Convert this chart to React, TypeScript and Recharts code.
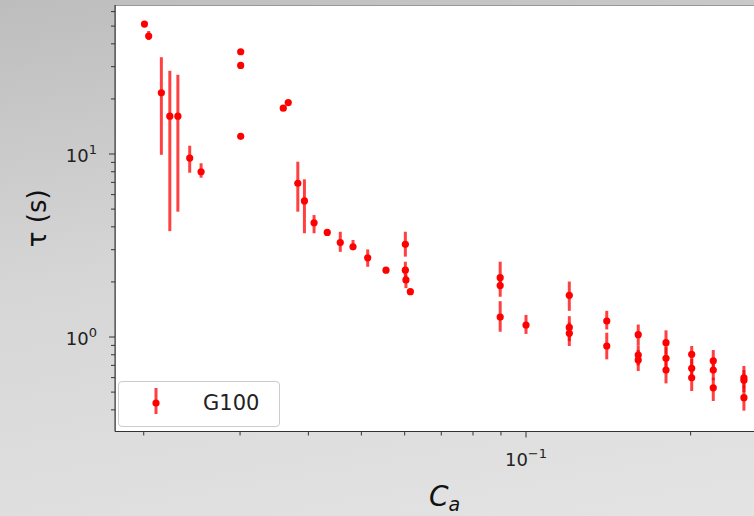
import { ErrorBar, Legend, ReferenceArea, Scatter, ScatterChart, XAxis, YAxis } from 'recharts'

const seriesName = 'G100'

// C_a values
const ca = [
  0.02006, 0.02042, 0.02154, 0.02232, 0.02309, 0.02427, 0.02546,
  0.03008, 0.03008, 0.03008, 0.03599, 0.03675,
  0.03826, 0.03934, 0.04097, 0.04331, 0.04575, 0.04827, 0.05135, 0.05546,
  0.06017, 0.06017, 0.06032, 0.06145,
  0.0897, 0.0897, 0.0897, 0.1,
  0.12, 0.12, 0.12, 0.1405, 0.1405,
  0.1604, 0.1604, 0.1604, 0.1803, 0.1803, 0.1803,
  0.2009, 0.2009, 0.2009, 0.22, 0.22, 0.22,
  0.2503, 0.2503, 0.2503,
]
// tau (s)
const tau = [
  51.3, 44.1, 21.6, 16.1, 16.1, 9.5, 8.0,
  36.2, 30.5, 12.5, 17.8, 19.1,
  6.92, 5.54, 4.21, 3.73, 3.28, 3.11, 2.71, 2.32,
  3.21, 2.32, 2.05, 1.77,
  2.11, 1.91, 1.286, 1.163,
  1.69, 1.129, 1.047, 1.223, 0.893,
  1.03, 0.797, 0.749, 0.931, 0.765, 0.66,
  0.804, 0.675, 0.599, 0.742, 0.66, 0.528,
  0.599, 0.58, 0.466,
]
// lower / upper ends of the error bars
const tauLow = [
  51.3, 42, 9.9, 3.79, 4.84, 7.9, 7.42,
  36.2, 30.5, 12.5, 17.8, 19.1,
  4.84, 3.69, 3.69, 3.73, 2.92, 2.99, 2.42, 2.32,
  2.75, 2.1, 1.85, 1.77,
  1.95, 1.66, 1.069, 1.04,
  1.39, 0.95, 0.893, 1.1, 0.755,
  0.9, 0.7, 0.652, 0.8, 0.66, 0.558,
  0.7, 0.6, 0.507, 0.66, 0.58, 0.447,
  0.53, 0.5, 0.396,
]
const tauHigh = [
  51.3, 47, 33.8, 28.5, 27.1, 11.1, 8.9,
  36.2, 30.5, 12.5, 17.8, 19.1,
  9.08, 7.27, 4.64, 3.73, 3.76, 3.39, 3.01, 2.32,
  3.76, 2.58, 2.2, 1.77,
  2.58, 2.1, 1.57, 1.32,
  2.01, 1.3, 1.2, 1.39, 1.056,
  1.17, 0.9, 0.85, 1.088, 0.88, 0.76,
  0.893, 0.76, 0.68, 0.849, 0.74, 0.6,
  0.695, 0.66, 0.54,
]

const xTicks = [0.02, 0.03, 0.04, 0.05, 0.06, 0.07, 0.08, 0.09, 0.1, 0.2]
const yTicks = [0.4, 0.5, 0.6, 0.7, 0.8, 0.9, 1, 2, 3, 4, 5, 6, 7, 8, 9, 10, 20, 30, 40, 50, 60]
const majorTicks = [0.1, 1, 10]

const xDomain = [0.01772, 0.2841]
const yDomain = [0.3046, 65.2]

const data = ca.map((x, i) => ({
  x,
  y: tau[i],
  err: [tau[i] - tauLow[i], tauHigh[i] - tau[i]],
}))

const RED = '#ff0000'
const AXIS = '#333333'

function expLabel(v: number) {
  const e = Math.round(Math.log10(v))
  return e < 0 ? `\u2212${-e}` : `${e}`
}

function isMajor(v: number) {
  return majorTicks.some((m) => Math.abs(m - v) < 1e-9)
}

function XTick(props: any) {
  const { x, y, payload } = props
  const v = payload.value
  if (!isMajor(v)) {
    return <line x1={x} x2={x} y1={y} y2={y + 4} stroke={AXIS} strokeWidth={1} />
  }
  return (
    <g>
      <line x1={x} x2={x} y1={y} y2={y + 6} stroke={AXIS} strokeWidth={1} />
      <text x={x} y={y + 34} textAnchor="middle" fontSize={18} fill="#222">
        10<tspan dy={-8} fontSize={13}>{expLabel(v)}</tspan>
      </text>
    </g>
  )
}

function YTick(props: any) {
  const { x, y, payload } = props
  const v = payload.value
  if (!isMajor(v)) {
    return <line x1={x - 4} x2={x} y1={y} y2={y} stroke={AXIS} strokeWidth={1} />
  }
  return (
    <g>
      <line x1={x - 6} x2={x} y1={y} y2={y} stroke={AXIS} strokeWidth={1} />
      <text x={x - 18} y={y + 8} textAnchor="end" fontSize={18} fill="#222">
        10<tspan dy={-8} fontSize={13}>{expLabel(v)}</tspan>
      </text>
    </g>
  )
}

function Dot(props: any) {
  return <circle cx={props.cx} cy={props.cy} r={3.6} fill={RED} />
}

function LegendBox() {
  return (
    <div
      style={{
        width: 160,
        height: 44,
        border: '1px solid #cccccc',
        borderRadius: 4,
        background: 'rgba(255,255,255,0.85)',
        position: 'relative',
        fontFamily: 'DejaVu Sans',
      }}
    >
      <svg width={30} height={44} style={{ position: 'absolute', left: 22, top: 0 }}>
        <line x1={15} x2={15} y1={6} y2={32} stroke={RED} strokeWidth={3} strokeOpacity={0.75} />
        <circle cx={15} cy={21} r={3.6} fill={RED} />
      </svg>
      <span
        style={{
          position: 'absolute',
          left: 84,
          top: 8,
          fontSize: 21,
          color: '#222',
          lineHeight: '26px',
        }}
      >
        {seriesName}
      </span>
    </div>
  )
}

export default function App() {
  return (
    <div
      style={{
        position: 'fixed',
        left: 0,
        top: 0,
        width: 754,
        height: 516,
        overflow: 'hidden',
        background: 'linear-gradient(170deg, #bdbdbd 0%, #d6d6d6 45%, #e4e4e4 100%)',
        fontFamily: 'DejaVu Sans',
      }}
    >
      <ScatterChart width={800} height={516} margin={{ top: 5, right: 26, bottom: 0, left: 0 }}>
        <ReferenceArea
          x1={xDomain[0]}
          x2={xDomain[1]}
          y1={yDomain[0]}
          y2={yDomain[1]}
          fill="#ffffff"
          fillOpacity={1}
          stroke={AXIS}
          strokeWidth={1}
          ifOverflow="hidden"
        />
        <XAxis
          type="number"
          dataKey="x"
          scale="log"
          domain={xDomain}
          allowDataOverflow
          ticks={xTicks}
          interval={0}
          tick={<XTick />}
          tickLine={false}
          tickSize={0}
          tickMargin={0}
          axisLine={{ stroke: AXIS }}
          height={84.5}
          label={{
            content: (p: any) => {
              const vb = p.viewBox
              return (
                <text
                  x={vb.x + vb.width / 2}
                  y={vb.y + 74}
                  textAnchor="middle"
                  fontSize={28}
                  fontStyle="italic"
                  fill="#111"
                >
                  C<tspan fontSize={19} dy={5}>a</tspan>
                </text>
              )
            },
          }}
        />
        <YAxis
          type="number"
          dataKey="y"
          scale="log"
          domain={yDomain}
          allowDataOverflow
          ticks={yTicks}
          interval={0}
          tick={<YTick />}
          tickLine={false}
          tickSize={0}
          tickMargin={0}
          axisLine={{ stroke: AXIS }}
          width={115}
          label={{
            content: (p: any) => {
              const vb = p.viewBox
              const cx = 37
              const cy = vb.y + vb.height / 2
              return (
                <text
                  x={cx}
                  y={cy}
                  transform={`rotate(-90 ${cx} ${cy})`}
                  textAnchor="middle"
                  dominantBaseline="central"
                  fontSize={26}
                  fill="#111"
                >
                  {'\u03c4 (s)'}
                </text>
              )
            },
          }}
        />
        <Scatter name={seriesName} data={data} fill={RED} shape={<Dot />} isAnimationActive={false}>
          <ErrorBar dataKey="err" direction="y" width={0} stroke={RED} strokeWidth={3} strokeOpacity={0.75} />
        </Scatter>
        <Legend
          layout="horizontal"
          verticalAlign="middle"
          align="center"
          wrapperStyle={{ left: 118, top: 381, width: 162 }}
          content={() => <LegendBox />}
        />
      </ScatterChart>
    </div>
  )
}
